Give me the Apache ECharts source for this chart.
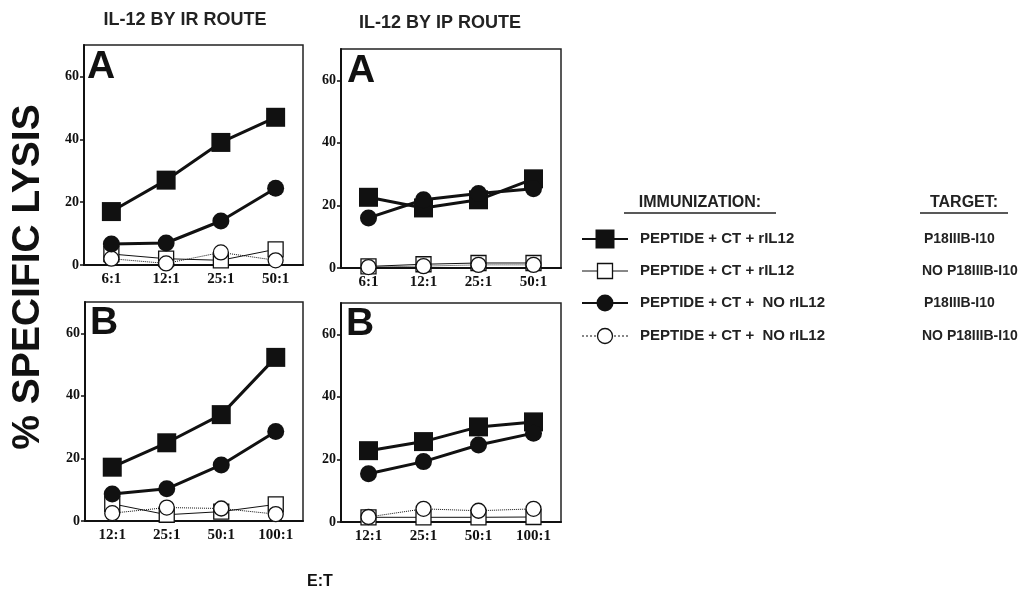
<!DOCTYPE html>
<html>
<head>
<meta charset="utf-8">
<script src="https://cdn.jsdelivr.net/npm/echarts@6/dist/echarts.min.js"></script>
<style>
  html, body { margin: 0; padding: 0; background: #fff; }
  #main { width: 1026px; height: 593px; }
</style>
</head>
<body>
<div id="main"></div>
<script>
// categories (E:T ratios)
var ratiosA = ['6:1', '12:1', '25:1', '50:1'];
var ratiosB = ['12:1', '25:1', '50:1', '100:1'];
var yTicks = [0, 20, 40, 60];

// IL-12 by IR route, panel A
var irA_sqFill = [17, 27, 39, 47];
var irA_sqOpen = [3.5, 2, 1.5, 5];
var irA_ciFill = [6.7, 7, 14, 24.4];
var irA_ciOpen = [2, 0.5, 4, 1.5];
// IL-12 by IP route, panel A
var ipA_sqFill = [22.6, 19.2, 21.8, 28.5];
var ipA_sqOpen = [0.5, 1.2, 1.6, 1.6];
var ipA_ciFill = [16, 21.8, 23.8, 25.3];
var ipA_ciOpen = [0.3, 0.6, 1, 1];
// IL-12 by IR route, panel B
var irB_sqFill = [17.2, 25, 34, 52.3];
var irB_sqOpen = [5.5, 2, 3, 5.3];
var irB_ciFill = [8.6, 10.3, 17.9, 28.6];
var irB_ciOpen = [2.5, 4.3, 4, 2.2];
// IL-12 by IP route, panel B
var ipB_sqFill = [22.8, 25.7, 30.4, 32];
var ipB_sqOpen = [1.5, 1.5, 1.5, 1.6];
var ipB_ciFill = [15.4, 19.3, 24.6, 28.4];
var ipB_ciOpen = [1.6, 4.2, 3.6, 4.2];

var immunization = ['PEPTIDE + CT + rIL12', 'PEPTIDE + CT + rIL12',
                    'PEPTIDE + CT +  NO rIL12', 'PEPTIDE + CT +  NO rIL12'];
var targets = ['P18IIIB-I10', 'NO P18IIIB-I10', 'P18IIIB-I10', 'NO P18IIIB-I10'];

var SANS = '"Liberation Sans", Arial, sans-serif';
var SERIF = '"Liberation Serif", "Times New Roman", serif';

var grids = [
  {left: 84, top: 45, width: 219, height: 220},
  {left: 341, top: 49, width: 220, height: 219},
  {left: 85, top: 302, width: 218, height: 219},
  {left: 341, top: 303, width: 220, height: 219}
];
var panelCats = [ratiosA, ratiosA, ratiosB, ratiosB];
var panelData = [
  [irA_sqFill, irA_sqOpen, irA_ciFill, irA_ciOpen],
  [ipA_sqFill, ipA_sqOpen, ipA_ciFill, ipA_ciOpen],
  [irB_sqFill, irB_sqOpen, irB_ciFill, irB_ciOpen],
  [ipB_sqFill, ipB_sqOpen, ipB_ciFill, ipB_ciOpen]
];

// marker look per group: filled square, open square, filled circle, open circle
var styles = [
  {symbol: 'rect', size: 19, fill: '#111', lw: 3, type: 'solid'},
  {symbol: 'rect', size: 15, fill: '#fff', lw: 1, type: 'solid'},
  {symbol: 'circle', size: 17, fill: '#111', lw: 3, type: 'solid'},
  {symbol: 'circle', size: 15, fill: '#fff', lw: 1, type: 'dotted'}
];

var xAxes = [], yAxes = [], series = [];
grids.forEach(function (g, i) {
  g.show = true;
  g.borderColor = '#222';
  g.borderWidth = 1.5;
  g.containLabel = false;
  xAxes.push({
    type: 'category', gridIndex: i, data: panelCats[i], boundaryGap: true,
    axisLine: {lineStyle: {color: '#111', width: 2}},
    axisTick: {alignWithLabel: true, length: 5, lineStyle: {color: '#111', width: 1.5}},
    axisLabel: {color: '#111', fontFamily: SERIF, fontWeight: 'bold', fontSize: 15, margin: 7},
    splitLine: {show: false}
  });
  yAxes.push({
    type: 'value', gridIndex: i, min: 0, max: 70,
    axisLine: {show: true, lineStyle: {color: '#111', width: 2}},
    axisTick: {show: true, length: 4, customValues: yTicks, lineStyle: {color: '#111', width: 1.5}},
    axisLabel: {color: '#111', fontFamily: SERIF, fontWeight: 'bold', fontSize: 14, margin: 5, customValues: yTicks},
    splitLine: {show: false}
  });
  panelData[i].forEach(function (d, k) {
    var s = styles[k];
    series.push({
      type: 'line', xAxisIndex: i, yAxisIndex: i, data: d,
      symbol: s.symbol, symbolSize: s.size, showAllSymbol: true,
      lineStyle: {color: '#111', width: s.lw, type: s.type},
      itemStyle: {color: s.fill, borderColor: '#111', borderWidth: s.fill === '#fff' ? 1.3 : 0},
      z: k % 2 === 1 ? 3 : 4,
      animation: false
    });
  });
});

var graphic = [
  {type: 'text', x: 185, y: 20, style: {text: 'IL-12 BY IR ROUTE', font: 'bold 18px ' + SANS, fill: '#222', textAlign: 'center', textVerticalAlign: 'middle'}},
  {type: 'text', x: 440, y: 23, style: {text: 'IL-12 BY IP ROUTE', font: 'bold 18px ' + SANS, fill: '#222', textAlign: 'center', textVerticalAlign: 'middle'}},
  {type: 'text', x: 28, y: 277, rotation: Math.PI / 2, style: {text: '% SPECIFIC LYSIS', font: 'bold 39px ' + SANS, fill: '#111', textAlign: 'center', textVerticalAlign: 'middle'}},
  {type: 'text', x: 320, y: 582, style: {text: 'E:T', font: 'bold 16px ' + SANS, fill: '#111', textAlign: 'center', textVerticalAlign: 'middle'}},
  {type: 'text', x: 87, y: 67, style: {text: 'A', font: 'bold 39px ' + SANS, fill: '#111', textVerticalAlign: 'middle'}},
  {type: 'text', x: 347, y: 71, style: {text: 'A', font: 'bold 39px ' + SANS, fill: '#111', textVerticalAlign: 'middle'}},
  {type: 'text', x: 90, y: 323, style: {text: 'B', font: 'bold 39px ' + SANS, fill: '#111', textVerticalAlign: 'middle'}},
  {type: 'text', x: 346, y: 324, style: {text: 'B', font: 'bold 39px ' + SANS, fill: '#111', textVerticalAlign: 'middle'}},
  {type: 'text', x: 700, y: 203, style: {text: 'IMMUNIZATION:', font: 'bold 16px ' + SANS, fill: '#222', textAlign: 'center', textVerticalAlign: 'middle'}},
  {type: 'line', shape: {x1: 624, y1: 213, x2: 776, y2: 213}, style: {stroke: '#222', lineWidth: 1.5}},
  {type: 'text', x: 964, y: 203, style: {text: 'TARGET:', font: 'bold 16px ' + SANS, fill: '#222', textAlign: 'center', textVerticalAlign: 'middle'}},
  {type: 'line', shape: {x1: 920, y1: 213, x2: 1008, y2: 213}, style: {stroke: '#222', lineWidth: 1.5}}
];

var rowY = [239, 271, 303, 336];
immunization.forEach(function (t, k) {
  var s = styles[k], y = rowY[k], cx = 605;
  graphic.push({type: 'line', shape: {x1: 582, y1: y, x2: 628, y2: y},
    style: {stroke: '#111', lineWidth: s.lw === 3 ? 2 : 1, lineDash: s.type === 'dotted' ? [2, 2] : null}});
  if (s.symbol === 'rect') {
    graphic.push({type: 'rect', shape: {x: cx - s.size / 2, y: y - s.size / 2, width: s.size, height: s.size},
      style: {fill: s.fill, stroke: '#111', lineWidth: s.fill === '#fff' ? 1.3 : 0}, z: 10});
  } else {
    graphic.push({type: 'circle', shape: {cx: cx, cy: y, r: s.size / 2},
      style: {fill: s.fill, stroke: '#111', lineWidth: s.fill === '#fff' ? 1.3 : 0}, z: 10});
  }
  graphic.push({type: 'text', x: 640, y: y, style: {text: t, font: 'bold 15px ' + SANS, fill: '#222', textVerticalAlign: 'middle'}});
  graphic.push({type: 'text', x: k % 2 === 0 ? 924 : 922, y: y, style: {text: targets[k], font: 'bold 14px ' + SANS, fill: '#222', textVerticalAlign: 'middle'}});
});

var chart = echarts.init(document.getElementById('main'), null, {renderer: 'canvas'});
chart.setOption({
  backgroundColor: '#fff',
  animation: false,
  grid: grids,
  xAxis: xAxes,
  yAxis: yAxes,
  series: series,
  graphic: graphic
});
</script>
</body>
</html>
